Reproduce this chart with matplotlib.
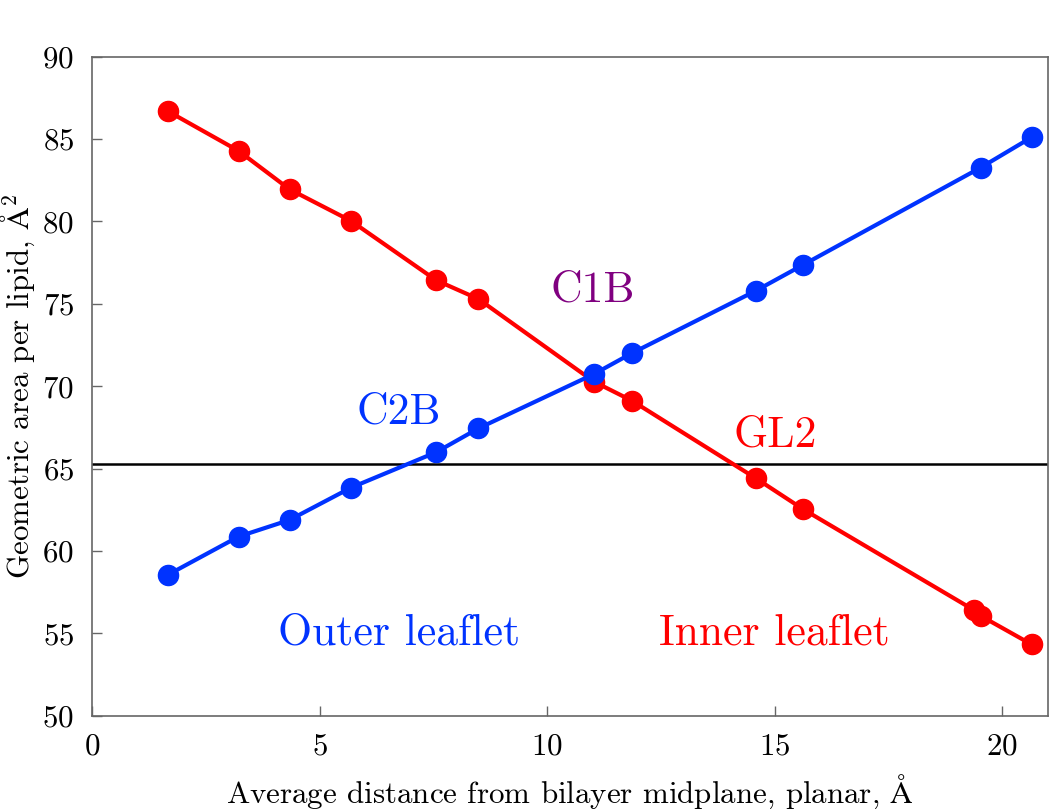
import matplotlib
matplotlib.use("Agg")
import matplotlib.pyplot as plt

plt.rcParams['font.family'] = ['cmr10', 'DejaVu Serif']
plt.rcParams['mathtext.fontset'] = 'cm'
plt.rcParams['axes.unicode_minus'] = False
plt.rcParams['axes.formatter.use_mathtext'] = True

# Data
x_outer = [1.66, 3.22, 4.34, 5.69, 7.56, 8.49, 11.03, 11.86, 14.59, 15.62, 19.52, 20.64]
y_outer = [58.54, 60.87, 61.88, 63.84, 65.99, 67.44, 70.74, 72.0, 75.8, 77.36, 83.26, 85.1]

x_inner = [1.66, 3.22, 4.34, 5.69, 7.56, 8.49, 11.03, 11.86, 14.59, 15.63, 19.37, 19.53, 20.64]
y_inner = [86.70, 84.28, 81.95, 80.03, 76.43, 75.29, 70.27, 69.12, 64.40, 62.52, 56.42, 56.05, 54.33]

hline_y = 65.30

xticks = [0, 5, 10, 15, 20]
yticks = [50, 55, 60, 65, 70, 75, 80, 85, 90]

blue = '#0033ff'
red = '#ff0000'
purple = '#800080'

fig = plt.figure(figsize=(10.5, 8.09), dpi=100)
ax = fig.add_axes([0.0876, 0.1153, 0.9104, 0.8147])

ax.axhline(hline_y, color='black', lw=1.8, zorder=1)
ax.plot(x_inner, y_inner, '-o', color=red, lw=3, ms=14.5, zorder=2)
ax.plot(x_outer, y_outer, '-o', color=blue, lw=3, ms=14.5, zorder=3)

ax.set_xlim(0, 21)
ax.set_ylim(50, 90)
ax.set_xticks(xticks)
ax.set_yticks(yticks)
ax.tick_params(direction='in', length=7, width=1, color='#666666', labelsize=22.3, pad=12)
ax.tick_params(axis='y', pad=13)
for s in ax.spines.values():
    s.set_color('#666666')
    s.set_linewidth(1.2)

ax.set_xlabel(r'Average distance from bilayer midplane, planar, $\mathrm{\AA}$', fontsize=22.3)
ax.set_ylabel(r'Geometric area per lipid, $\mathrm{\AA}^2$', fontsize=22.3)
ax.xaxis.set_label_coords(0.5, -0.086)
ax.yaxis.set_label_coords(-0.057, 0.5)

ts = 31.5
ax.text(11.0, 75.8, 'C1B', color=purple, fontsize=ts, ha='center', va='center')
ax.text(6.75, 68.4, 'C2B', color=blue, fontsize=ts, ha='center', va='center')
ax.text(15.0, 67.0, 'GL2', color=red, fontsize=ts, ha='center', va='center')
ax.text(6.75, 55.0, 'Outer leaflet', color=blue, fontsize=ts, ha='center', va='center')
ax.text(15.0, 55.0, 'Inner leaflet', color=red, fontsize=ts, ha='center', va='center')

fig.savefig('out.png', dpi=100)
